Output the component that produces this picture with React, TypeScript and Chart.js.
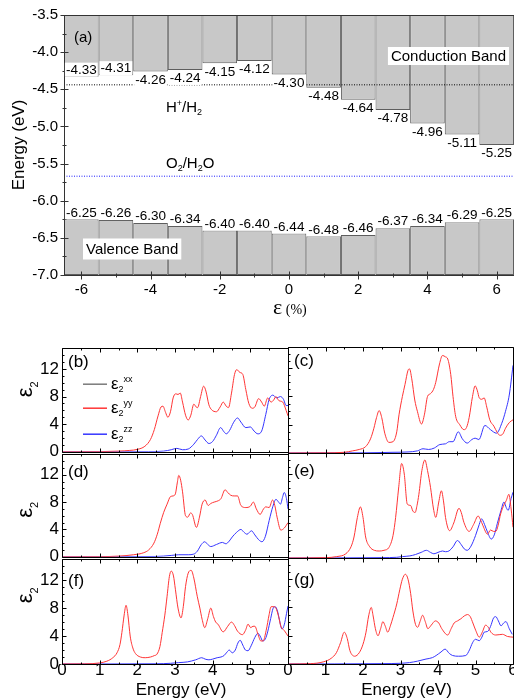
import React, { useEffect, useRef } from "react";
import { Chart, registerables } from "chart.js";

Chart.register(...registerables);

const SANS = "'Liberation Sans', Arial, Helvetica, sans-serif";
const SERIF = "'Liberation Serif', 'Times New Roman', serif";
Chart.defaults.font.family = SANS;

// ---------------- panel (a): band edges vs strain ----------------
const strain = [-6, -5, -4, -3, -2, -1, 0, 1, 2, 3, 4, 5, 6];
const cbm = [-4.33, -4.31, -4.26, -4.24, -4.15, -4.12, -4.3, -4.48, -4.64, -4.78, -4.96, -5.11, -5.25];
const vbm = [-6.25, -6.26, -6.3, -6.34, -6.4, -6.4, -6.44, -6.48, -6.46, -6.37, -6.34, -6.29, -6.25];
const energyTicks = [-3.5, -4.0, -4.5, -5.0, -5.5, -6.0, -6.5, -7.0];
const strainTicks = [-6, -4, -2, 0, 2, 4, 6];
const energyMax = -3.5;
const energyMin = -7.0;
const hLevel = -4.44; // H+/H2
const oLevel = -5.67; // O2/H2O

// ---------------- panels (b)-(g): eps2 spectra ----------------
const photonTicks = [0, 1, 2, 3, 4, 5, 6];
const eps2Ticks = [0, 4, 8, 12];

type Pt = [number, number];

const bYY: Pt[] = [[0, 0], [1.0, 0.02], [1.5, 0.1], [1.8, 0.2], [2.0, 0.35], [2.2, 0.8], [2.35, 1.8], [2.45, 3.2], [2.55, 5.2], [2.63, 6.5], [2.68, 6.6], [2.75, 5.7], [2.81, 5.0], [2.88, 5.8], [2.95, 7.8], [3.02, 8.4], [3.08, 8.3], [3.14, 8.5], [3.2, 7.2], [3.28, 5.3], [3.35, 4.6], [3.42, 5.3], [3.5, 6.9], [3.56, 6.5], [3.6, 6.4], [3.68, 8.0], [3.76, 9.5], [3.82, 8.8], [3.9, 6.8], [3.97, 6.1], [4.1, 5.8], [4.2, 6.5], [4.28, 7.2], [4.36, 6.6], [4.42, 6.4], [4.5, 8.5], [4.58, 11.2], [4.64, 11.9], [4.72, 11.5], [4.8, 11.2], [4.88, 9.0], [4.96, 7.0], [5.05, 6.3], [5.12, 6.5], [5.22, 7.7], [5.3, 7.2], [5.37, 6.6], [5.46, 7.8], [5.55, 7.2], [5.62, 7.5], [5.68, 8.0], [5.76, 7.4], [5.86, 7.2], [5.95, 6.0], [6.0, 5.2]];
const bZZ: Pt[] = [[0, 0], [2.3, 0.02], [2.7, 0.1], [2.9, 0.3], [3.05, 0.5], [3.2, 0.3], [3.35, 0.4], [3.5, 1.1], [3.6, 1.8], [3.7, 2.3], [3.8, 1.7], [3.9, 1.2], [4.0, 1.5], [4.1, 2.4], [4.21, 3.5], [4.3, 2.9], [4.36, 2.6], [4.45, 3.1], [4.55, 4.2], [4.66, 4.9], [4.75, 4.3], [4.88, 3.5], [5.0, 3.6], [5.1, 3.0], [5.2, 2.6], [5.3, 3.0], [5.41, 5.4], [5.5, 7.6], [5.6, 8.2], [5.7, 7.8], [5.8, 8.0], [5.88, 7.6], [5.95, 6.7], [6.0, 6.7]];

const cYY: Pt[] = [[0, 0], [1.0, 0.02], [1.5, 0.1], [1.72, 0.3], [1.9, 0.5], [2.07, 0.9], [2.2, 2.0], [2.29, 3.5], [2.36, 5.0], [2.43, 6.0], [2.5, 5.0], [2.58, 2.8], [2.69, 1.5], [2.8, 1.6], [2.9, 3.0], [2.96, 5.4], [3.05, 8.0], [3.12, 9.7], [3.2, 11.7], [3.24, 11.9], [3.3, 10.5], [3.38, 7.5], [3.45, 5.9], [3.56, 4.1], [3.64, 5.5], [3.72, 8.0], [3.8, 8.4], [3.88, 9.0], [3.94, 10.0], [4.04, 12.6], [4.12, 13.8], [4.2, 13.6], [4.26, 13.3], [4.34, 11.1], [4.4, 8.0], [4.47, 5.2], [4.58, 4.0], [4.69, 3.3], [4.76, 3.6], [4.83, 5.0], [4.92, 8.0], [4.99, 9.5], [5.05, 8.8], [5.1, 7.8], [5.17, 7.6], [5.23, 7.8], [5.3, 6.5], [5.38, 4.7], [5.49, 3.8], [5.58, 2.9], [5.65, 2.5], [5.73, 2.7], [5.8, 3.5], [5.9, 4.3], [6.0, 4.7]];
const cZZ: Pt[] = [[0, 0], [2.0, 0.02], [2.8, 0.1], [3.2, 0.15], [3.45, 0.3], [3.6, 0.6], [3.75, 0.5], [3.9, 0.7], [4.05, 1.2], [4.2, 1.3], [4.3, 1.6], [4.4, 1.6], [4.54, 3.0], [4.65, 2.0], [4.78, 1.4], [4.9, 1.9], [4.99, 2.1], [5.09, 1.9], [5.25, 3.9], [5.4, 3.3], [5.56, 2.8], [5.7, 4.2], [5.8, 5.9], [5.9, 8.2], [6.0, 12.4]];

const dYY: Pt[] = [[0, 0], [1.0, 0.02], [1.5, 0.1], [1.9, 0.3], [2.17, 0.6], [2.3, 1.0], [2.44, 2.0], [2.53, 3.3], [2.61, 4.9], [2.7, 6.5], [2.79, 7.7], [2.88, 8.8], [2.95, 8.9], [3.01, 9.2], [3.06, 10.8], [3.1, 11.9], [3.15, 11.2], [3.2, 9.5], [3.28, 6.0], [3.34, 5.8], [3.41, 6.4], [3.46, 6.2], [3.57, 4.3], [3.65, 5.8], [3.72, 7.7], [3.8, 8.3], [3.88, 7.5], [3.95, 7.8], [4.04, 8.0], [4.15, 8.2], [4.22, 8.5], [4.33, 9.8], [4.4, 9.4], [4.48, 9.0], [4.57, 8.9], [4.66, 8.9], [4.75, 7.5], [4.88, 7.2], [5.0, 7.4], [5.08, 8.0], [5.16, 7.0], [5.26, 6.2], [5.35, 7.0], [5.41, 7.3], [5.5, 7.2], [5.59, 8.3], [5.65, 7.5], [5.71, 5.8], [5.81, 3.9], [5.9, 4.2], [6.0, 5.0]];
const dZZ: Pt[] = [[0, 0], [2.5, 0.05], [2.9, 0.2], [3.1, 0.3], [3.35, 0.3], [3.5, 0.4], [3.59, 0.8], [3.7, 1.8], [3.79, 2.2], [3.87, 1.8], [3.95, 1.5], [4.1, 1.8], [4.26, 2.1], [4.35, 1.9], [4.44, 2.3], [4.52, 2.9], [4.64, 3.6], [4.75, 4.0], [4.83, 3.6], [4.91, 3.3], [5.03, 3.8], [5.12, 3.2], [5.22, 2.5], [5.31, 2.2], [5.4, 3.0], [5.5, 5.3], [5.6, 7.4], [5.68, 8.4], [5.75, 8.0], [5.8, 7.7], [5.86, 8.8], [5.9, 9.4], [5.96, 8.5], [6.0, 7.0]];

const eYY: Pt[] = [[0, 0], [1.0, 0.05], [1.3, 0.2], [1.54, 0.6], [1.68, 1.6], [1.76, 3.0], [1.85, 5.8], [1.93, 7.3], [2.0, 5.8], [2.07, 3.0], [2.18, 1.6], [2.3, 1.1], [2.43, 1.0], [2.56, 1.1], [2.69, 1.5], [2.8, 3.2], [2.87, 5.8], [2.95, 10.0], [3.03, 13.5], [3.1, 12.0], [3.18, 7.7], [3.27, 7.5], [3.33, 6.7], [3.39, 6.5], [3.44, 7.5], [3.49, 9.1], [3.57, 12.5], [3.65, 14.0], [3.72, 12.5], [3.8, 10.1], [3.88, 7.0], [3.94, 5.8], [4.02, 8.0], [4.09, 9.6], [4.15, 8.0], [4.2, 5.8], [4.31, 3.9], [4.42, 5.0], [4.56, 7.1], [4.62, 6.5], [4.69, 5.1], [4.83, 3.8], [4.95, 4.8], [5.07, 6.0], [5.13, 5.5], [5.2, 4.6], [5.32, 3.4], [5.4, 4.0], [5.48, 3.8], [5.54, 3.8], [5.6, 4.6], [5.67, 6.3], [5.76, 7.6], [5.82, 8.2], [5.89, 9.1], [5.95, 7.0], [6.0, 4.4]];
const eZZ: Pt[] = [[0, 0], [2.5, 0.05], [2.9, 0.1], [3.05, 0.2], [3.25, 0.3], [3.4, 0.5], [3.55, 0.8], [3.69, 1.1], [3.8, 0.8], [3.89, 0.6], [4.0, 0.8], [4.12, 1.0], [4.2, 0.9], [4.29, 1.0], [4.4, 1.6], [4.52, 2.5], [4.62, 1.9], [4.7, 1.3], [4.78, 1.1], [4.88, 1.7], [5.0, 3.2], [5.1, 4.8], [5.16, 5.6], [5.24, 4.8], [5.32, 3.7], [5.42, 2.7], [5.5, 3.3], [5.58, 4.9], [5.68, 6.8], [5.76, 8.0], [5.82, 7.2], [5.87, 6.8], [5.95, 8.5], [6.0, 9.4]];

const fYY: Pt[] = [[0, 0], [0.6, 0.02], [1.0, 0.15], [1.19, 0.4], [1.35, 0.9], [1.46, 1.6], [1.54, 2.8], [1.59, 4.5], [1.65, 7.0], [1.7, 8.4], [1.75, 7.0], [1.81, 4.0], [1.88, 2.3], [1.95, 1.5], [2.08, 1.0], [2.21, 0.9], [2.35, 1.0], [2.45, 1.2], [2.52, 1.4], [2.6, 2.5], [2.66, 4.5], [2.73, 7.0], [2.79, 9.7], [2.85, 12.5], [2.9, 13.3], [2.96, 12.6], [3.01, 10.7], [3.08, 8.0], [3.16, 6.6], [3.22, 8.2], [3.28, 11.1], [3.35, 13.0], [3.43, 13.4], [3.5, 12.3], [3.59, 9.7], [3.66, 8.0], [3.72, 6.4], [3.79, 5.2], [3.87, 6.5], [3.95, 8.0], [4.02, 6.8], [4.08, 6.0], [4.14, 5.7], [4.28, 4.6], [4.4, 5.4], [4.5, 6.0], [4.58, 5.5], [4.66, 4.7], [4.79, 4.2], [4.87, 4.8], [4.94, 5.7], [5.01, 5.2], [5.07, 5.4], [5.12, 5.4], [5.2, 4.3], [5.28, 3.3], [5.34, 3.3], [5.42, 4.8], [5.5, 7.1], [5.55, 8.2], [5.63, 8.2], [5.68, 8.0], [5.75, 6.8], [5.81, 5.4], [5.9, 4.8], [6.0, 4.0]];
const fZZ: Pt[] = [[0, 0], [2.5, 0.03], [2.88, 0.1], [3.1, 0.2], [3.33, 0.3], [3.55, 0.6], [3.71, 0.9], [3.8, 0.7], [3.9, 0.6], [4.0, 0.7], [4.12, 0.9], [4.22, 1.0], [4.3, 1.2], [4.38, 1.7], [4.44, 2.0], [4.52, 1.6], [4.6, 2.0], [4.67, 3.0], [4.73, 3.4], [4.8, 2.7], [4.87, 2.0], [4.94, 1.9], [5.02, 2.6], [5.12, 3.8], [5.2, 4.4], [5.26, 4.0], [5.33, 3.3], [5.4, 3.6], [5.46, 4.6], [5.54, 6.5], [5.6, 7.9], [5.66, 8.2], [5.72, 7.6], [5.77, 6.4], [5.84, 5.0], [5.9, 5.6], [5.96, 7.2], [6.0, 8.3]];

const gYY: Pt[] = [[0, 0], [0.6, 0.05], [0.94, 0.3], [1.15, 0.8], [1.29, 1.6], [1.4, 3.0], [1.5, 4.5], [1.58, 3.6], [1.65, 1.9], [1.78, 1.1], [1.9, 1.6], [2.0, 2.8], [2.08, 4.5], [2.15, 6.8], [2.22, 8.0], [2.27, 6.8], [2.33, 5.0], [2.4, 4.0], [2.47, 5.0], [2.53, 6.0], [2.59, 5.4], [2.66, 4.5], [2.73, 5.4], [2.8, 6.6], [2.9, 8.5], [2.98, 10.5], [3.05, 12.0], [3.13, 12.7], [3.2, 12.0], [3.27, 10.0], [3.33, 7.5], [3.4, 5.6], [3.46, 5.2], [3.52, 6.0], [3.59, 6.9], [3.66, 6.0], [3.73, 5.0], [3.82, 5.5], [3.93, 6.1], [4.02, 5.8], [4.1, 5.0], [4.26, 4.1], [4.35, 5.0], [4.43, 5.8], [4.52, 6.1], [4.61, 6.4], [4.7, 6.8], [4.79, 7.0], [4.86, 6.7], [4.93, 5.8], [5.01, 4.7], [5.1, 3.8], [5.18, 4.5], [5.27, 5.5], [5.34, 5.2], [5.41, 4.5], [5.54, 4.1], [5.72, 4.2], [5.85, 3.9], [6.0, 3.8]];
const gZZ: Pt[] = [[0, 0], [2.5, 0.05], [3.0, 0.1], [3.24, 0.2], [3.45, 0.4], [3.68, 0.7], [3.85, 0.9], [3.95, 1.2], [4.08, 1.7], [4.19, 2.1], [4.3, 1.5], [4.39, 1.2], [4.55, 1.1], [4.74, 1.2], [4.84, 2.0], [4.92, 3.0], [5.0, 3.5], [5.1, 3.3], [5.17, 3.8], [5.23, 4.5], [5.32, 4.6], [5.4, 5.3], [5.48, 6.5], [5.54, 6.7], [5.61, 6.1], [5.68, 5.4], [5.75, 5.8], [5.81, 6.0], [5.9, 5.0], [5.98, 4.2]];

const RED = "#ff3535";
const BLUE = "#3535ff";
const GRAY = "#7a7a7a";

type Part = { t: string; size: number; dy?: number; family?: string };

function drawRich(ctx: CanvasRenderingContext2D, x: number, y: number, parts: Part[]) {
  let cx = x;
  for (const p of parts) {
    ctx.font = `${p.size}px ${p.family ?? SANS}`;
    ctx.fillText(p.t, cx, y + (p.dy ?? 0));
    cx += ctx.measureText(p.t).width;
  }
  return cx - x;
}

const noGrid = { display: false, drawTicks: false };

function BandChart() {
  const ref = useRef<HTMLCanvasElement | null>(null);
  useEffect(() => {
    const canvas = ref.current;
    if (!canvas) return;
    const overlay = {
      id: "bandOverlay",
      afterDraw(chart: any) {
        const { ctx, chartArea: a } = chart;
        const xs = chart.scales.x;
        const ys = chart.scales.y;
        ctx.save();
        // frame and ticks
        ctx.strokeStyle = "#333";
        ctx.lineWidth = 1;
        const L = Math.round(a.left) + 0.5;
        const B = Math.round(a.bottom) + 0.5;
        const T = Math.round(a.top) + 0.5;
        ctx.beginPath();
        ctx.moveTo(a.right, T);
        ctx.lineTo(L, T);
        ctx.lineTo(L, B);
        ctx.lineTo(a.right, B);
        for (let i = 0; i <= 14; i++) {
          const v = energyMax - i * 0.25;
          const y = Math.round(ys.getPixelForValue(v)) + 0.5;
          const len = i % 2 === 0 ? 4 : 2;
          ctx.moveTo(L - len, y);
          ctx.lineTo(L + len, y);
        }
        for (let s = -6; s <= 6; s++) {
          const x = Math.round(xs.getPixelForValue(s)) + 0.5;
          const len = s % 2 === 0 ? 4 : 2;
          ctx.moveTo(x, B - len);
          ctx.lineTo(x, B + len);
        }
        ctx.stroke();

        // value labels
        ctx.textAlign = "center";
        ctx.textBaseline = "middle";
        ctx.font = `13.5px ${SANS}`;
        const box = (x: number, y: number, txt: string) => {
          const w = ctx.measureText(txt).width;
          ctx.fillStyle = "#fff";
          ctx.fillRect(x - w / 2 - 1, y - 7, w + 2, 14);
          ctx.fillStyle = "#000";
          ctx.fillText(txt, x, y + 0.5);
        };
        strain.forEach((s, i) => {
          const x = xs.getPixelForValue(s);
          const yb = ys.getPixelForValue(cbm[i]);
          box(x, i < 2 ? yb - 7 : yb + 8, cbm[i].toFixed(2));
          const yt = ys.getPixelForValue(vbm[i]);
          box(x, yt - 7, vbm[i].toFixed(2));
        });

        // band names
        ctx.font = `15px ${SANS}`;
        const cbTxt = "Conduction Band";
        const cbw = ctx.measureText(cbTxt).width;
        const cbR = a.right - 5;
        const cbY = a.top + 41;
        ctx.fillStyle = "#fff";
        ctx.fillRect(cbR - cbw - 6, cbY - 9, cbw + 6, 18);
        ctx.fillStyle = "#000";
        ctx.fillText(cbTxt, cbR - cbw / 2 - 3, cbY + 0.5);

        const vbTxt = "Valence Band";
        const vbw = ctx.measureText(vbTxt).width;
        const vbL = a.left + 19;
        const vbY = a.bottom - 26;
        ctx.fillStyle = "#fff";
        ctx.fillRect(vbL, vbY - 10.5, vbw + 6, 21);
        ctx.fillStyle = "#000";
        ctx.fillText(vbTxt, vbL + 3 + vbw / 2, vbY + 0.5);

        ctx.textAlign = "left";
        ctx.fillText("(a)", a.left + 10, a.top + 23);

        // redox levels
        ctx.textBaseline = "alphabetic";
        const lx = a.left + 102;
        drawRich(ctx, lx, ys.getPixelForValue(hLevel) + 27, [
          { t: "H", size: 15 },
          { t: "+", size: 9, dy: -6 },
          { t: "/H", size: 15 },
          { t: "2", size: 9, dy: 3 },
        ]);
        drawRich(ctx, lx, ys.getPixelForValue(oLevel) - 8, [
          { t: "O", size: 15 },
          { t: "2", size: 9, dy: 3 },
          { t: "/H", size: 15 },
          { t: "2", size: 9, dy: 3 },
          { t: "O", size: 15 },
        ]);

        // axis titles
        ctx.save();
        ctx.translate(19, (a.top + a.bottom) / 2);
        ctx.rotate(-Math.PI / 2);
        ctx.textAlign = "center";
        ctx.textBaseline = "middle";
        ctx.font = `17px ${SANS}`;
        ctx.fillText("Energy (eV)", 0, 0);
        ctx.restore();

        ctx.textAlign = "left";
        ctx.textBaseline = "alphabetic";
        drawRich(ctx, (a.left + a.right) / 2 - 16, a.bottom + 38.5, [
          { t: "\u03b5", size: 22, family: SERIF },
          { t: " (%)", size: 14, family: SERIF },
        ]);
        ctx.restore();
      },
    };
    const barStyle = {
      backgroundColor: "#c8c8c8",
      borderColor: "#5e5e5e",
      borderWidth: 1,
      borderSkipped: false,
      grouped: false,
      barPercentage: 1,
      categoryPercentage: 1,
      inflateAmount: 0,
      order: 2,
    };
    const chart = new Chart(canvas, {
      type: "bar",
      data: {
        datasets: [
          { ...barStyle, label: "Conduction Band", data: strain.map((s, i) => ({ x: s, y: [cbm[i], energyMax] })) },
          { ...barStyle, label: "Valence Band", data: strain.map((s, i) => ({ x: s, y: [energyMin, vbm[i]] })) },
          {
            type: "line",
            label: "H+/H2",
            data: [{ x: -6.5, y: hLevel }, { x: 6.5, y: hLevel }],
            borderColor: "#000",
            borderWidth: 1,
            borderDash: [1, 1.5],
            pointRadius: 0,
            order: 1,
          },
          {
            type: "line",
            label: "O2/H2O",
            data: [{ x: -6.5, y: oLevel }, { x: 6.5, y: oLevel }],
            borderColor: "#1a1aff",
            borderWidth: 1,
            borderDash: [1, 1.5],
            pointRadius: 0,
            order: 1,
          },
        ],
      } as any,
      options: {
        animation: false,
        responsive: false,
        devicePixelRatio: 1,
        events: [],
        layout: { padding: { left: 0, top: 15, right: 16, bottom: 0 } },
        plugins: { legend: { display: false }, tooltip: { enabled: false } },
        scales: {
          x: {
            type: "linear",
            min: -6.5,
            max: 6.5,
            offset: false,
            grid: noGrid,
            border: { display: false },
            afterBuildTicks: (s: any) => {
              s.ticks = strainTicks.map((v) => ({ value: v }));
            },
            afterFit: (s: any) => {
              s.height = 55;
            },
            ticks: {
              color: "#000",
              font: { size: 15, family: SANS },
              padding: 6,
              maxRotation: 0,
              autoSkip: false,
              callback: (v: any) => String(v),
            },
          },
          y: {
            type: "linear",
            min: energyMin,
            max: energyMax,
            grid: noGrid,
            border: { display: false },
            afterBuildTicks: (s: any) => {
              s.ticks = energyTicks.map((v) => ({ value: v }));
            },
            afterFit: (s: any) => {
              s.width = 64;
            },
            ticks: {
              color: "#000",
              font: { size: 15, family: SANS },
              padding: 6,
              callback: (v: any) => Number(v).toFixed(1),
            },
          },
        },
      } as any,
      plugins: [overlay],
    });
    return () => chart.destroy();
  }, []);
  return (
    <canvas
      ref={ref}
      width={530}
      height={330}
      style={{ position: "absolute", left: 0, top: 0, width: 530, height: 330 }}
    />
  );
}

interface PanelSpec {
  tag: string;
  yy: Pt[];
  zz: Pt[];
  col: 0 | 1;
  row: 0 | 1 | 2;
  legend?: boolean;
  tagValue: number;
  titleValue: number;
}

const colLeft = [62, 288];
const colRight = [288, 513];
const rowTop = [347, 453, 558];
const rowBottom = [453, 558, 664];

function SpectrumPanel(p: PanelSpec) {
  const ref = useRef<HTMLCanvasElement | null>(null);
  const padL = p.col === 0 ? 0 : 14;
  const yW = p.col === 0 ? 62 : 0;
  const canvasLeft = colLeft[p.col] - yW - padL;
  const padR = p.col === 0 ? 2 : 18;
  const canvasWidth = colRight[p.col] - canvasLeft + padR;
  const top = rowTop[p.row];
  const bottom = rowBottom[p.row];
  const padT = 12;
  const xH = p.row === 2 ? 36 : 0;
  const padB = p.row === 2 ? 0 : 12;
  const canvasTop = top - padT;
  const canvasHeight = padT + (bottom - top) + xH + padB;

  useEffect(() => {
    const canvas = ref.current;
    if (!canvas) return;
    const overlay = {
      id: "panelOverlay",
      afterDraw(chart: any) {
        const { ctx, chartArea: a } = chart;
        const xs = chart.scales.x;
        const ys = chart.scales.y;
        ctx.save();
        ctx.strokeStyle = "#000";
        ctx.lineWidth = 1;
        const L = Math.round(a.left) + 0.5;
        const R = Math.round(a.right) + 0.5;
        const T = Math.round(a.top) + 0.5;
        const B = Math.round(a.bottom) + 0.5;
        ctx.beginPath();
        for (let i = 0; i <= 12; i++) {
          const x = Math.round(xs.getPixelForValue(i * 0.5)) + 0.5;
          const len = i % 2 === 0 ? 4 : 2;
          ctx.moveTo(x, B);
          ctx.lineTo(x, B - len);
          ctx.moveTo(x, T);
          ctx.lineTo(x, T + len);
        }
        for (let v = 0; v <= 15; v++) {
          const y = Math.round(ys.getPixelForValue(v)) + 0.5;
          const len = v % 4 === 0 ? 4 : 2;
          ctx.moveTo(L, y);
          ctx.lineTo(L + len, y);
        }
        ctx.rect(L, T, R - L, B - T);
        ctx.stroke();

        ctx.fillStyle = "#000";
        ctx.textAlign = "left";
        ctx.textBaseline = "middle";
        ctx.font = `17px ${SANS}`;
        ctx.fillText(p.tag, a.left + 6, ys.getPixelForValue(p.tagValue));

        if (p.legend) {
          const entries: [string, string][] = [
            ["xx", GRAY],
            ["yy", RED],
            ["zz", BLUE],
          ];
          const offs = [36, 60, 86];
          entries.forEach(([sup, color], k) => {
            const y = a.top + offs[k];
            ctx.strokeStyle = color;
            ctx.lineWidth = 1.5;
            ctx.beginPath();
            ctx.moveTo(a.left + 21, y);
            ctx.lineTo(a.left + 45, y);
            ctx.stroke();
            ctx.textBaseline = "alphabetic";
            drawRich(ctx, a.left + 49, y + 5, [
              { t: "\u03b5", size: 17 },
              { t: "2", size: 9, dy: 2.5 },
              { t: sup, size: 9, dy: -7.5 },
            ]);
          });
        }

        if (p.col === 0) {
          ctx.save();
          ctx.translate(32, ys.getPixelForValue(p.titleValue));
          ctx.rotate(-Math.PI / 2);
          ctx.textAlign = "left";
          ctx.textBaseline = "alphabetic";
          ctx.fillStyle = "#000";
          drawRich(ctx, 0, 0, [
            { t: "\u03b5", size: 22 },
            { t: "2", size: 11, dy: 6 },
          ]);
          ctx.restore();
        }

        if (p.row === 2) {
          ctx.textAlign = "center";
          ctx.textBaseline = "middle";
          ctx.font = `17px ${SANS}`;
          ctx.fillText("Energy (eV)", (a.left + a.right) / 2 + 6, a.bottom + 26);
        }
        ctx.restore();
      },
    };
    const line = (pts: Pt[], color: string, label: string) => ({
      label,
      data: pts.map(([x, y]) => ({ x, y })),
      borderColor: color,
      borderWidth: 1,
      pointRadius: 0,
      fill: false,
      cubicInterpolationMode: "monotone",
    });
    const chart = new Chart(canvas, {
      type: "line",
      data: {
        datasets: [line(p.yy, RED, "\u03b52 yy"), line(p.zz, BLUE, "\u03b52 zz")],
      } as any,
      options: {
        animation: false,
        responsive: false,
        devicePixelRatio: 1,
        events: [],
        layout: { padding: { left: padL, top: padT, right: padR, bottom: padB } },
        plugins: { legend: { display: false }, tooltip: { enabled: false } },
        scales: {
          x: {
            type: "linear",
            min: 0,
            max: 6,
            display: p.row === 2,
            grid: noGrid,
            border: { display: false },
            afterBuildTicks: (s: any) => {
              s.ticks = photonTicks.map((v) => ({ value: v }));
            },
            afterFit: (s: any) => {
              s.height = xH;
            },
            ticks: {
              color: "#000",
              font: { size: 17, family: SANS, lineHeight: 1 },
              padding: -2,
              maxRotation: 0,
              autoSkip: false,
              callback: (v: any) => (p.col === 0 && Number(v) === 6 ? "" : String(v)),
            },
          },
          y: {
            type: "linear",
            min: 0,
            max: 15,
            display: p.col === 0,
            grid: noGrid,
            border: { display: false },
            afterBuildTicks: (s: any) => {
              s.ticks = eps2Ticks.map((v) => ({ value: v }));
            },
            afterFit: (s: any) => {
              s.width = yW;
            },
            ticks: {
              color: "#000",
              font: { size: 17, family: SANS },
              padding: 3,
              callback: (v: any) => String(v),
            },
          },
        },
      } as any,
      plugins: [overlay],
    });
    return () => chart.destroy();
  }, []);

  return (
    <canvas
      ref={ref}
      width={canvasWidth}
      height={canvasHeight}
      style={{ position: "absolute", left: canvasLeft, top: canvasTop, width: canvasWidth, height: canvasHeight }}
    />
  );
}

const panels: PanelSpec[] = [
  { tag: "(b)", yy: bYY, zz: bZZ, col: 0, row: 0, legend: true, tagValue: 13.0, titleValue: 7.9 },
  { tag: "(c)", yy: cYY, zz: cZZ, col: 1, row: 0, tagValue: 13.0, titleValue: 7.9 },
  { tag: "(d)", yy: dYY, zz: dZZ, col: 0, row: 1, tagValue: 12.4, titleValue: 5.7 },
  { tag: "(e)", yy: eYY, zz: eZZ, col: 1, row: 1, tagValue: 12.4, titleValue: 5.7 },
  { tag: "(f)", yy: fYY, zz: fZZ, col: 0, row: 2, tagValue: 11.9, titleValue: 8.7 },
  { tag: "(g)", yy: gYY, zz: gZZ, col: 1, row: 2, tagValue: 11.9, titleValue: 8.7 },
];

export default function App() {
  return (
    <div
      style={{
        position: "absolute",
        left: 0,
        top: 0,
        width: 514,
        height: 700,
        overflow: "hidden",
        background: "#fff",
      }}
    >
      <BandChart />
      {panels.map((p) => (
        <SpectrumPanel key={p.tag} {...p} />
      ))}
    </div>
  );
}
